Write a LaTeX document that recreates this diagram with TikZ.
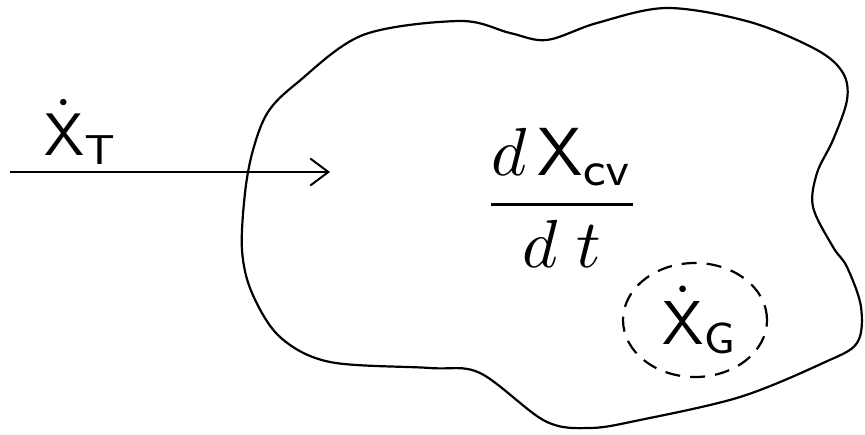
\documentclass[tikz,border=0pt]{standalone}
\usepackage{amsmath}
\usetikzlibrary{arrows.meta,shapes.geometric}
\begin{document}
\begin{tikzpicture}[x=1pt,y=-1pt,
  outline/.style={line width=2.2pt, line join=round},
  flow/.style={line width=1.8pt, -{Straight Barb[length=18pt,width=27pt,line width=2pt]}},
  dashring/.style={line width=2.2pt, dash pattern=on 15pt off 10pt},
  lbl/.style={inner sep=0pt, text=black}]
\useasboundingbox (0,0) rectangle (865,434);
% control volume boundary
\draw[outline] plot[smooth cycle, tension=0.55] coordinates {
 (253,150) (268,112) (297,83) (363,35) (460,21) (510,33) (547,40) (597,23)
 (667,8) (750,22) (817,50) (843,73) (847,100) (833,140) (817,173) (813,207)
 (833,247) (847,267) (861,307) (857,343) (823,363) (740,397) (640,420)
 (590,428) (545,421) (480,373) (430,368) (330,362) (280,337) (252,293)
 (242,250) (245,193)};
% transfer arrow
\coordinate (in) at (10,172);
\coordinate (tip) at (330,172);
\draw[flow] (in) -- (tip);
\node[lbl, scale=6] (xt) at (81,132) {$\dot{\mathsf{X}}_{\mathsf{T}}$};
% rate of change
\node[lbl, scale=6.8] (rate) at (562,198) {$\dfrac{d\,\mathsf{X}_{\mathsf{cv}}}{d\;t}$};
% generation
\node[draw, dashring, ellipse, minimum width=144pt, minimum height=114pt] (gen) at (695,320) {};
\node[lbl, scale=6.2] (xg) at (700,320) {$\dot{\mathsf{X}}_{\mathsf{G}}$};
\end{tikzpicture}
\end{document}
